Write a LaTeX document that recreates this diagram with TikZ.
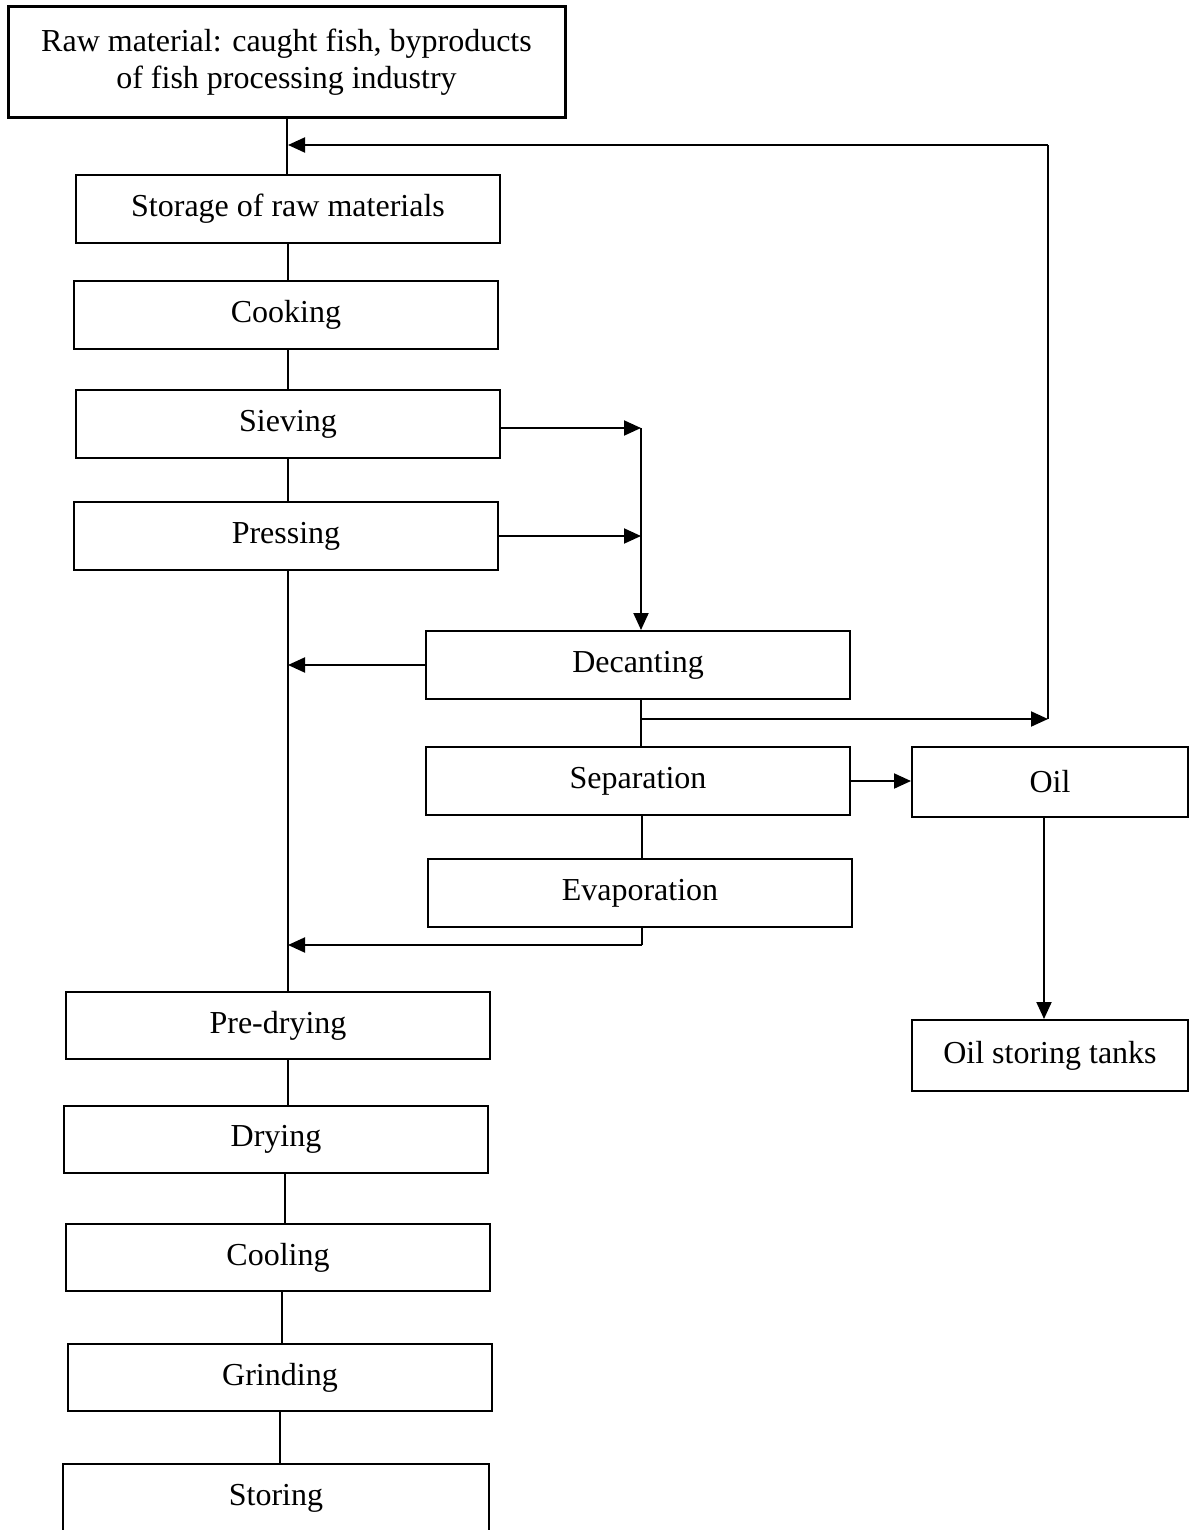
\documentclass[tikz,border=0pt]{standalone}
\usepackage{fontspec}
\setmainfont{Liberation Serif}
\usetikzlibrary{arrows.meta}
\begin{document}
\begin{tikzpicture}[x=1pt,y=-1pt,
  box/.style={draw=black,line width=2pt,rectangle,inner sep=0pt,align=center,
    font=\fontsize{32}{37}\selectfont,minimum width=424pt,minimum height=68pt},
  conn/.style={line width=2pt,draw=black},
  arr/.style={conn,-{Triangle[length=17pt,width=15pt]}}]
\useasboundingbox (0,0) rectangle (1190,1530);
\node[box,line width=3pt,minimum width=557pt,minimum height=111pt] (raw) at (286.5,62.5) {Raw material: caught fish, byproducts\\of fish processing industry};
\node[box] (storage) at (288,209) {Storage of raw materials};
\node[box] (cooking) at (286,315) {Cooking};
\node[box] (sieving) at (288,424) {Sieving};
\node[box] (pressing) at (286,536) {Pressing};
\node[box] (decanting) at (638,665) {Decanting};
\node[box] (separation) at (638,781) {Separation};
\node[box] (evaporation) at (640,893) {Evaporation};
\node[box,minimum width=276pt,minimum height=70pt] (oil) at (1050,782) {Oil};
\node[box,minimum width=276pt,minimum height=71pt] (oilstore) at (1050,1055.5) {Oil storing tanks};
\node[box,minimum height=67pt] (predrying) at (278,1025.5) {Pre-drying};
\node[box,minimum height=67pt] (drying) at (276,1139.5) {Drying};
\node[box,minimum height=67pt] (cooling) at (278,1257.5) {Cooling};
\node[box,minimum height=67pt] (grinding) at (280,1377.5) {Grinding};
\node[box,draw=none,minimum height=66pt] (storing) at (276,1498) {Storing};
\draw[conn] (storing.south west) -- (storing.north west) -- (storing.north east) -- (storing.south east);
% main line
\draw[conn] (raw.south) -- (raw.south |- storage.north);
\draw[conn] (storage.south) -- (storage.south |- cooking.north);
\draw[conn] (cooking.south -| storage.south) -- (storage.south |- sieving.north);
\draw[conn] (sieving.south -| storage.south) -- (storage.south |- pressing.north);
\draw[conn] (pressing.south -| storage.south) -- (storage.south |- predrying.north);
\draw[conn] (predrying.south -| storage.south) -- (storage.south |- drying.north);
\draw[conn] (drying.south -| 285,0) -- (285,0 |- cooling.north);
\draw[conn] (cooling.south -| 282,0) -- (282,0 |- grinding.north);
\draw[conn] (grinding.south) -- (grinding.south |- storing.north);
% to decanting
\coordinate (dx) at (641,0);
\coordinate (s1) at ([yshift=-4pt]sieving.east);
\draw[arr] (s1) -- (s1 -| dx);
\draw[arr] (pressing.east) -- (pressing.east -| dx);
\draw[arr] (s1 -| dx) -- (dx |- decanting.north);
\draw[arr] (decanting.west) -- (decanting.west -| storage.south);
% decanting down
\draw[conn] (dx |- decanting.south) -- (dx |- separation.north);
\coordinate (b1) at (641,719);
\coordinate (r1) at (1048,719);
\coordinate (r2) at (1048,145);
\draw[arr] (b1) -- (r1);
\draw[conn] (r1) -- (r2);
\draw[arr] (r2) -- (r2 -| storage.south);
% separation
\draw[arr] (separation.east) -- (separation.east -| oil.west);
\draw[conn] (separation.south -| 642,0) -- (642,0 |- evaporation.north);
\coordinate (e1) at (642,945);
\draw[conn] (642,0 |- evaporation.south) -- (e1);
\draw[arr] (e1) -- (e1 -| storage.south);
% oil
\draw[arr] (oil.south -| 1044,0) -- (1044,0 |- oilstore.north);
\end{tikzpicture}
\end{document}
